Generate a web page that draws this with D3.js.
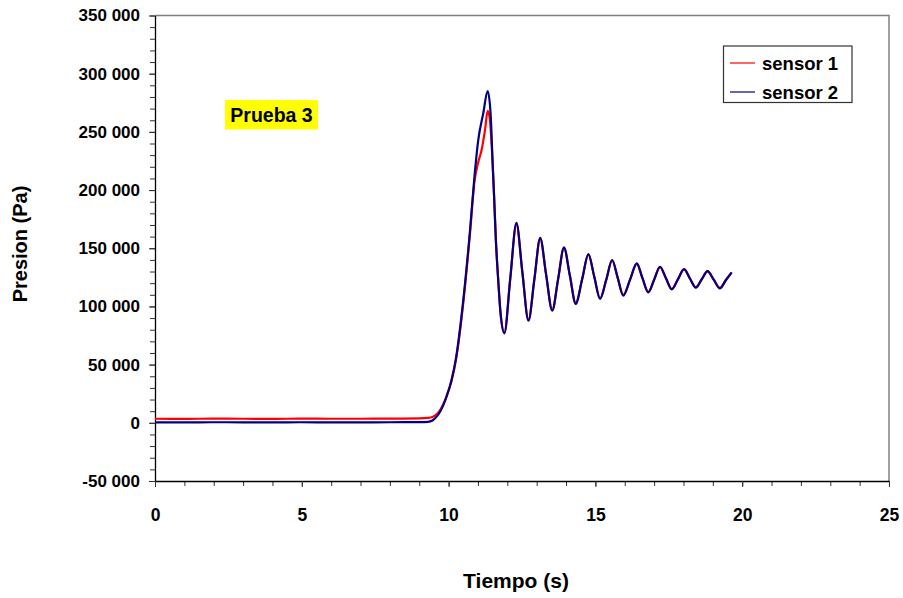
<!DOCTYPE html>
<html>
<head>
<meta charset="utf-8">
<script src="https://cdn.jsdelivr.net/npm/d3@7"></script>
<style>
  html, body { margin: 0; padding: 0; background: #fff; }
  svg { display: block; font-family: "Liberation Sans", Arial, sans-serif; font-weight: bold; }
</style>
</head>
<body>
<svg id="chart" width="903" height="598"></svg>
<script>
// ---- data ----
const xTicks = [0, 5, 10, 15, 20, 25];
const yTicks = [-50000, 0, 50000, 100000, 150000, 200000, 250000, 300000, 350000];
const seriesNames = ["sensor 1", "sensor 2"];
const annotation = "Prueba 3";

const time1 = [0, 1, 2, 3, 4, 5, 6, 7, 8, 9, 9.3, 9.45, 9.6, 9.71, 9.93, 10.1, 10.25, 10.5, 10.73, 10.88, 11.01, 11.12, 11.24, 11.33, 11.4, 11.47, 11.5, 11.55, 11.61, 11.69, 11.77, 11.9,
  12.1, 12.31, 12.51, 12.72, 12.92, 13.12, 13.32, 13.53, 13.73, 13.93, 14.13, 14.33, 14.55, 14.76, 14.96, 15.16, 15.37, 15.57, 15.76, 15.95,
  16.18, 16.41, 16.6, 16.8, 17.0, 17.2, 17.4, 17.6, 17.81, 18.02, 18.22, 18.42, 18.62, 18.82, 19.03, 19.24, 19.44, 19.64];
const sensor1 = [3500, 3400, 3600, 3500, 3400, 3600, 3500, 3500, 3600, 3800, 4200, 5000, 7500, 11000, 23000, 36000, 54000, 103000, 163000, 207000, 224000, 234000, 251500, 268100, 262000, 237200, 222900, 194200, 157000, 122700, 94000, 77500,
  124000, 170500, 130000, 88500, 123000, 158000, 127500, 97000, 123500, 150000, 126500, 103000, 123500, 144500, 125700, 107000, 123000, 139500, 124500, 110000,
  123000, 136500, 124500, 112500, 123000, 133800, 124400, 115000, 123300, 131800, 124000, 116500, 123200, 130200, 123000, 116000, 122500, 129000];

const time2 = [0, 1, 2, 3, 4, 5, 6, 7, 8, 9, 9.3, 9.45, 9.6, 9.71, 9.93, 10.1, 10.25, 10.5, 10.73, 10.88, 11.01, 11.18, 11.33, 11.43, 11.5, 11.55, 11.61, 11.69, 11.77, 11.9,
  12.1, 12.31, 12.51, 12.72, 12.92, 13.12, 13.32, 13.53, 13.73, 13.93, 14.13, 14.33, 14.55, 14.76, 14.96, 15.16, 15.37, 15.57, 15.76, 15.95,
  16.18, 16.41, 16.6, 16.8, 17.0, 17.2, 17.4, 17.6, 17.81, 18.02, 18.22, 18.42, 18.62, 18.82, 19.03, 19.24, 19.44, 19.64];
const sensor2 = [400, 300, 500, 400, 300, 500, 400, 400, 500, 600, 800, 2000, 5500, 9500, 22400, 36800, 55400, 105500, 165600, 211400, 243000, 265900, 285000, 265900, 222900, 194200, 157000, 122700, 94000, 76900,
  124000, 171900, 130000, 87700, 123000, 159000, 127500, 96300, 123500, 150800, 126500, 102100, 123500, 145000, 125700, 106400, 123000, 139900, 124500, 109200,
  123000, 137000, 124500, 112100, 123000, 134100, 124400, 114700, 123300, 132000, 124000, 116100, 123200, 130400, 123000, 115500, 122500, 129300];

// ---- layout ----
const mLeft = 155, mRight = 889, mTop = 15.5, mBottom = 481;
const svg = d3.select("#chart");

const x = d3.scaleLinear().domain([0, 25]).range([mLeft, mRight]);
const y = d3.scaleLinear().domain([-50000, 350000]).range([mBottom, mTop]);

const loc = d3.formatLocale({ decimal: ",", thousands: " ", grouping: [3], currency: ["", ""], minus: "-" });
const fmt = loc.format(",d");

// frame (top & right, gray)
svg.append("path")
  .attr("d", `M${mLeft},${mTop}H${mRight}V${mBottom}`)
  .attr("fill", "none").attr("stroke", "#808080").attr("stroke-width", 1.5);

// minor ticks
const yMinor = d3.range(-50000, 350001, 10000);
const xMinor = d3.range(0, 25.001, 1);
svg.append("g").attr("transform", `translate(${mLeft},0)`)
  .call(d3.axisLeft(y).tickValues(yMinor).tickSize(5).tickFormat(""))
  .call(g => g.select(".domain").remove())
  .call(g => g.selectAll("line").attr("stroke", "#333"));
svg.append("g").attr("transform", `translate(0,${mBottom})`)
  .call(d3.axisBottom(x).tickValues(xMinor).tickSize(5).tickFormat(""))
  .call(g => g.select(".domain").remove())
  .call(g => g.selectAll("line").attr("stroke", "#333"));

// major axes
const yAxis = svg.append("g").attr("transform", `translate(${mLeft},0)`)
  .call(d3.axisLeft(y).tickValues(yTicks).tickSize(6).tickSizeOuter(0).tickPadding(9).tickFormat(fmt));
yAxis.select(".domain").attr("stroke", "#000").attr("stroke-width", 1.3);
yAxis.selectAll("line").attr("stroke", "#333");
yAxis.selectAll("text").attr("font-size", 17).attr("font-weight", "bold").attr("fill", "#000")
  .attr("font-family", "Liberation Sans, Arial, sans-serif");

const xAxis = svg.append("g").attr("transform", `translate(0,${mBottom})`)
  .call(d3.axisBottom(x).tickValues(xTicks).tickSize(6).tickSizeOuter(0).tickPadding(22).tickFormat(d3.format("d")));
xAxis.select(".domain").attr("stroke", "#000").attr("stroke-width", 1.3);
xAxis.selectAll("line").attr("stroke", "#333");
xAxis.selectAll("text").attr("font-size", 17.5).attr("font-weight", "bold").attr("fill", "#000")
  .attr("font-family", "Liberation Sans, Arial, sans-serif");

// lines
const line = d3.line().x(d => x(d[0])).y(d => y(d[1])).curve(d3.curveMonotoneX);
const d1 = time1.map((t, i) => [t, sensor1[i]]);
const d2 = time2.map((t, i) => [t, sensor2[i]]);
const colors = ["#ff0000", "#000080"];

svg.append("path").datum(d1).attr("d", line)
  .attr("fill", "none").attr("stroke", colors[0]).attr("stroke-width", 2.2).attr("stroke-linejoin", "round");
svg.append("path").datum(d2).attr("d", line)
  .attr("fill", "none").attr("stroke", colors[1]).attr("stroke-width", 2.2).attr("stroke-linejoin", "round");

// axis titles
svg.append("text").attr("x", 516).attr("y", 588).attr("text-anchor", "middle")
  .attr("font-size", 21).text("Tiempo (s)");
svg.append("text").attr("transform", "translate(27,244) rotate(-90)").attr("text-anchor", "middle")
  .attr("font-size", 20).text("Presion (Pa)");

// annotation
svg.append("rect").attr("x", 225).attr("y", 100).attr("width", 93).attr("height", 29.5).attr("fill", "#ffff00");
svg.append("text").attr("x", 271.5).attr("y", 121.5).attr("text-anchor", "middle")
  .attr("font-size", 19.5).text(annotation);

// legend
const lg = svg.append("g");
lg.append("rect").attr("x", 723.5).attr("y", 46).attr("width", 128.5).attr("height", 56.5)
  .attr("fill", "#fff").attr("stroke", "#333").attr("stroke-width", 1.2);
seriesNames.forEach((n, i) => {
  const yy = 63 + i * 29;
  lg.append("line").attr("x1", 730).attr("x2", 755).attr("y1", yy).attr("y2", yy)
    .attr("stroke", colors[i]).attr("stroke-width", 1.2);
  lg.append("text").attr("x", 762).attr("y", yy + 6.5).attr("font-size", 18.5).text(n);
});
</script>
</body>
</html>
